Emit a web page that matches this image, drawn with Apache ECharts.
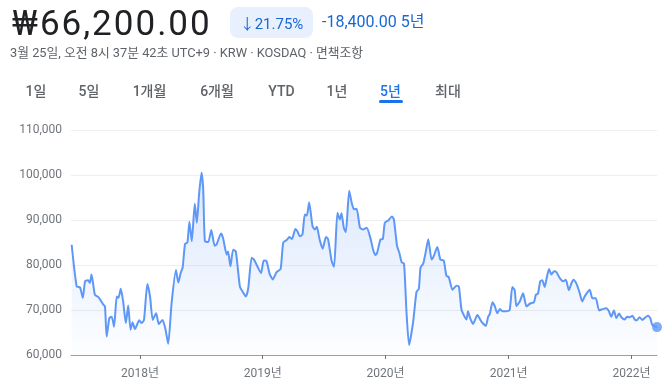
<!DOCTYPE html>
<html lang="ko">
<head>
<meta charset="utf-8">
<title>5년 주가 차트</title>
<script src="https://cdn.jsdelivr.net/npm/echarts@6/dist/echarts.min.js"></script>
<style>
  html, body { margin: 0; padding: 0; background: #fff; }
  .page {
    position: relative; width: 667px; height: 392px; overflow: hidden;
    font-family: Roboto, "Noto Sans CJK KR", sans-serif;
  }
  #chart { position: absolute; left: 0; top: 0; width: 667px; height: 392px; }
  .abs { position: absolute; white-space: nowrap; }
  .price { left: 12px; top: 7px; font-size: 35px; line-height: 34px; letter-spacing: 2px; color: #202124; }
  .badge {
    left: 230px; top: 7px; width: 83px; height: 31px; border-radius: 8px; background: #e8f0fe;
    display: flex; align-items: center; justify-content: center;
    font-size: 15px; font-weight: 400; color: #1967d2;
  }
  .change { left: 322px; top: 12px; font-size: 16px; line-height: 20px; font-weight: 400; color: #1967d2; }
  .meta { left: 10px; top: 45px; font-size: 12.8px; line-height: 16px; color: #5f6368; }
  .tab { top: 81px; font-size: 14px; line-height: 20px; font-weight: 500; color: #5f6368; transform: translateX(-50%); }
  .tab.active { color: #1a73e8; }
  .underline { left: 379px; top: 100px; width: 24px; height: 3px; border-radius: 2px; background: #1a73e8; }
</style>
</head>
<body>
<div class="page">
  <div id="chart"></div>
  <div class="abs price">₩66,200.00</div>
  <div class="abs badge">↓21.75%</div>
  <div class="abs change">-18,400.00 5년</div>
  <div class="abs meta">3월 25일, 오전 8시 37분 42초 UTC+9 · KRW · KOSDAQ · 면책조항</div>
  <div id="tabs"></div>
  <div class="abs underline"></div>
</div>
<script>
// 기간 탭
const tabLabels = ["1일", "5일", "1개월", "6개월", "YTD", "1년", "5년", "최대"];
const tabCenters = [36, 89, 149.5, 217, 281.5, 337, 390.5, 448];
const activeTab = "5년";

// 주가 (원)
const dates = [
  "2017-06-12", "2017-06-27", "2017-07-07", "2017-07-15", "2017-07-22", "2017-07-31", "2017-08-05", "2017-08-10", "2017-08-20", "2017-08-30",
  "2017-09-14", "2017-09-19", "2017-09-24", "2017-10-02", "2017-10-09", "2017-10-16", "2017-10-24", "2017-10-29", "2017-11-05", "2017-11-12",
  "2017-11-20", "2017-11-27", "2017-12-04", "2017-12-10", "2017-12-17", "2017-12-30", "2018-01-06", "2018-01-13", "2018-01-23", "2018-01-31",
  "2018-02-08", "2018-02-18", "2018-02-26", "2018-03-09", "2018-03-17", "2018-03-26", "2018-04-05", "2018-04-18", "2018-04-25", "2018-05-02",
  "2018-05-08", "2018-05-15", "2018-05-22", "2018-05-28", "2018-06-04", "2018-06-13", "2018-06-19", "2018-06-26", "2018-07-03", "2018-07-08",
  "2018-07-13", "2018-07-23", "2018-08-01", "2018-08-11", "2018-08-17", "2018-08-30", "2018-09-05", "2018-09-16", "2018-09-20", "2018-09-27",
  "2018-10-05", "2018-10-13", "2018-10-25", "2018-11-02", "2018-11-12", "2018-11-19", "2018-11-29", "2018-12-06", "2018-12-18", "2018-12-27",
  "2019-01-04", "2019-01-12", "2019-01-22", "2019-01-31", "2019-02-11", "2019-02-23", "2019-03-03", "2019-03-14", "2019-03-21", "2019-03-29",
  "2019-04-08", "2019-04-14", "2019-04-21", "2019-04-29", "2019-05-06", "2019-05-12", "2019-05-19", "2019-05-29", "2019-06-05", "2019-06-11",
  "2019-06-18", "2019-06-28", "2019-07-08", "2019-07-14", "2019-07-25", "2019-08-01", "2019-08-11", "2019-08-18", "2019-08-23", "2019-08-30",
  "2019-09-05", "2019-09-15", "2019-09-22", "2019-09-29", "2019-10-07", "2019-10-17", "2019-10-26", "2019-11-06", "2019-11-18", "2019-11-25",
  "2019-12-02", "2019-12-07", "2019-12-17", "2019-12-24", "2019-12-30", "2020-01-09", "2020-01-20", "2020-01-26", "2020-02-04", "2020-02-11",
  "2020-02-18", "2020-02-25", "2020-03-03", "2020-03-11", "2020-03-23", "2020-04-02", "2020-04-09", "2020-04-14", "2020-04-22", "2020-04-29",
  "2020-05-07", "2020-05-17", "2020-05-23", "2020-06-03", "2020-06-12", "2020-06-22", "2020-06-30", "2020-07-07", "2020-07-18", "2020-07-30",
  "2020-08-06", "2020-08-14", "2020-08-24", "2020-08-29", "2020-09-02", "2020-09-10", "2020-09-17", "2020-09-30", "2020-10-12", "2020-10-25",
  "2020-11-01", "2020-11-06", "2020-11-14", "2020-11-21", "2020-11-28", "2020-12-06", "2020-12-14", "2020-12-25", "2021-01-04", "2021-01-12",
  "2021-01-19", "2021-01-24", "2021-02-03", "2021-02-13", "2021-02-23", "2021-03-07", "2021-03-17", "2021-03-23", "2021-03-29", "2021-04-05",
  "2021-04-11", "2021-04-18", "2021-04-23", "2021-05-01", "2021-05-08", "2021-05-16", "2021-05-23", "2021-06-02", "2021-06-12", "2021-06-20",
  "2021-06-29", "2021-07-07", "2021-07-13", "2021-07-23", "2021-07-31", "2021-08-08", "2021-08-15", "2021-08-23", "2021-08-30", "2021-09-07",
  "2021-09-17", "2021-09-27", "2021-10-07", "2021-10-19", "2021-10-26", "2021-11-02", "2021-11-10", "2021-11-17", "2021-11-25", "2021-12-02",
  "2021-12-12", "2021-12-19", "2021-12-27", "2022-01-04", "2022-01-11", "2022-01-17", "2022-01-25", "2022-02-02", "2022-02-12", "2022-02-19",
  "2022-02-26", "2022-03-04", "2022-03-18"
];
const prices = [
  84500, 75200, 75000, 72700, 76400, 76600, 76000, 77900, 73400, 72900,
  71200, 70800, 64100, 68200, 68500, 66300, 73000, 72700, 74700, 71900,
  67100, 71000, 65600, 67300, 65800, 67700, 67100, 67800, 75800, 73000,
  67800, 69300, 66900, 67800, 66000, 62500, 71500, 78900, 76100, 78200,
  79500, 84700, 85000, 89600, 85300, 93600, 89400, 96000, 100500, 96800,
  85300, 85100, 87800, 84300, 84600, 87000, 86000, 82300, 83000, 79700,
  83400, 83000, 75200, 74100, 73000, 74900, 81600, 81200, 79400, 78200,
  81000, 80900, 77900, 76800, 78400, 79100, 85000, 85600, 86200, 85800,
  88000, 87500, 86400, 86800, 91200, 91000, 93900, 88600, 87900, 88500,
  86000, 83600, 86200, 85800, 80800, 79600, 91600, 90100, 91500, 88300,
  87300, 96500, 94000, 92400, 92500, 88300, 87900, 88300, 85700, 83400,
  82200, 82700, 85700, 85800, 89400, 89900, 90800, 90100, 84300, 82700,
  80600, 80300, 70000, 62200, 67300, 74000, 74700, 79400, 80300, 82700,
  85700, 81200, 81900, 84000, 81200, 81000, 77600, 77300, 74500, 75400,
  75200, 70000, 68400, 67900, 69700, 67900, 66900, 68900, 67400, 66500,
  68500, 69100, 71700, 70800, 69300, 70200, 69700, 69700, 70000, 75100,
  74400, 70900, 71900, 73700, 70800, 71500, 71700, 73400, 73600, 76400,
  76600, 75100, 76700, 79100, 77900, 78600, 78400, 77100, 76400, 76700,
  74400, 76000, 76700, 75600, 73800, 71900, 73000, 73900, 74500, 72600,
  72600, 69900, 70200, 70400, 69700, 68500, 69900, 68200, 69200, 68400,
  67900, 68500, 68400, 68700, 67900, 67700, 68400, 67800, 68400, 68700,
  68200, 66700, 66200
];

// 축
const xStart = "2017-06-10";
const xEnd = "2022-03-18";
const yearTicks = ["2018-01-01", "2019-01-01", "2020-01-01", "2021-01-01", "2022-01-01"];
const yMin = 60000;
const yMax = 110000;
const yStep = 10000;

const lineColor = "#5e97f6";

// tabs
const tabBox = document.getElementById("tabs");
tabLabels.forEach((label, i) => {
  const el = document.createElement("div");
  el.className = "abs tab" + (label === activeTab ? " active" : "");
  el.style.left = tabCenters[i] + "px";
  el.textContent = label;
  tabBox.appendChild(el);
});

const toTime = (s) => +echarts.time.parse(s);
const tickTimes = yearTicks.map(toTime);
const lastIdx = dates.length - 1;
const points = dates.map((d, i) => [toTime(d), prices[i]]);

const chart = echarts.init(document.getElementById("chart"));
chart.setOption({
  animation: false,
  textStyle: { fontFamily: 'Roboto, "Noto Sans CJK KR", sans-serif' },
  grid: { left: 71, right: 10, top: 130, bottom: 37 },
  xAxis: {
    type: "value",
    min: toTime(xStart),
    max: toTime(xEnd),
    axisLine: { lineStyle: { color: "#9aa0a6", width: 1 } },
    axisTick: { show: true, length: 4, customValues: tickTimes, lineStyle: { color: "#70757a" } },
    axisLabel: {
      customValues: tickTimes,
      color: "#70757a",
      fontSize: 12,
      margin: 13,
      formatter: (v) => new Date(v).getFullYear() + "년",
    },
    splitLine: { show: false },
  },
  yAxis: {
    type: "value",
    min: yMin,
    max: yMax,
    interval: yStep,
    axisLine: { show: false },
    axisTick: { show: false },
    axisLabel: {
      color: "#70757a",
      fontSize: 12,
      margin: 9,
      formatter: (v) => v.toLocaleString("en-US"),
    },
    splitLine: { lineStyle: { color: "#eeeeee", width: 1 } },
  },
  series: [
    {
      type: "line",
      data: points,
      showSymbol: false,
      smooth: 0.2,
      lineStyle: { color: lineColor, width: 2 },
      areaStyle: {
        color: new echarts.graphic.LinearGradient(0, 0, 0, 1, [
          { offset: 0, color: "rgba(94, 151, 246, 0.32)" },
          { offset: 1, color: "rgba(94, 151, 246, 0.02)" },
        ]),
      },
      z: 2,
    },
    {
      type: "scatter",
      data: [points[lastIdx]],
      symbolSize: 10,
      itemStyle: { color: lineColor },
      z: 3,
    },
  ],
});
</script>
</body>
</html>
